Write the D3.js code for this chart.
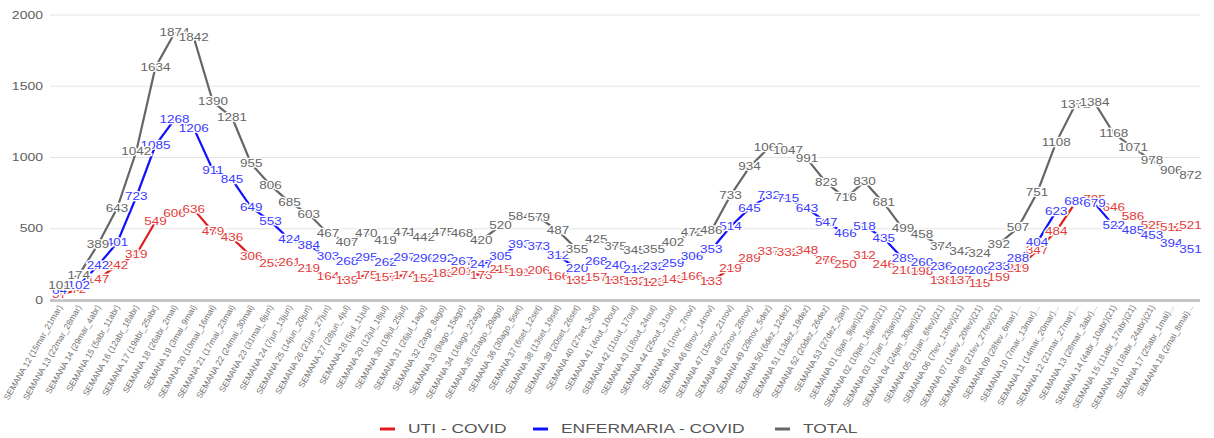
<!DOCTYPE html>
<html>
<head>
<meta charset="utf-8">
<style>
  body { margin: 0; background: #fff; }
  svg text { font-family: "Liberation Sans", Arial, sans-serif; }
</style>
</head>
<body>
<svg width="1214" height="438"></svg>
<script src="https://d3js.org/d3.v7.min.js"></script>
<script>

var weeks = [
  "SEMANA 12 (15mar_21mar)", "SEMANA 13 (22mar_28mar)", "SEMANA 14 (29mar_4abr)", "SEMANA 15 (5abr_11abr)",
  "SEMANA 16 (12abr_18abr)", "SEMANA 17 (19abr_25abr)", "SEMANA 18 (26abr_2mai)", "SEMANA 19 (3mai_9mai)",
  "SEMANA 20 (10mai_16mai)", "SEMANA 21 (17mai_23mai)", "SEMANA 22 (24mai_30mai)", "SEMANA 23 (31mai_6jun)",
  "SEMANA 24 (7jun_13jun)", "SEMANA 25 (14jun_20jun)", "SEMANA 26 (21jun_27jun)", "SEMANA 27 (28jun_4jul)",
  "SEMANA 28 (5jul_11jul)", "SEMANA 29 (12jul_18jul)", "SEMANA 30 (19jul_25jul)", "SEMANA 31 (26jul_1ago)",
  "SEMANA 32 (2ago_8ago)", "SEMANA 33 (9ago_15ago)", "SEMANA 34 (16ago_22ago)", "SEMANA 35 (23ago_29ago)",
  "SEMANA 36 (30ago_5set)", "SEMANA 37 (6set_12set)", "SEMANA 38 (13set_19set)", "SEMANA 39 (20set_26set)",
  "SEMANA 40 (27set_3out)", "SEMANA 41 (4out_10out)", "SEMANA 42 (11out_17out)", "SEMANA 43 (18out_24out)",
  "SEMANA 44 (25out_31out)", "SEMANA 45 (1nov_7nov)", "SEMANA 46 (8nov_14nov)", "SEMANA 47 (15nov_21nov)",
  "SEMANA 48 (22nov_28nov)", "SEMANA 49 (29nov_5dez)", "SEMANA 50 (6dez_12dez)", "SEMANA 51 (13dez_19dez)",
  "SEMANA 52 (20dez_26dez)", "SEMANA 53 (27dez_2jan)", "SEMANA 01 (3jan_9jan)(21)", "SEMANA 02 (10jan_16jan)(21)",
  "SEMANA 03 (17jan_23jan)(21)", "SEMANA 04 (24jan_30jan)(21)", "SEMANA 05 (31jan_6fev)(21)", "SEMANA 06 (7fev_13fev)(21)",
  "SEMANA 07 (14fev_20fev)(21)", "SEMANA 08 (21fev_27fev)(21)", "SEMANA 09 (28fev_6mar)...", "SEMANA 10 (7mar_13mar)...",
  "SEMANA 11 (14mar_20mar)...", "SEMANA 12 (21mar_27mar)...", "SEMANA 13 (28mar_3abr)...", "SEMANA 14 (4abr_10abr)(21)",
  "SEMANA 15 (11abr_17abr)(21)", "SEMANA 16 (18abr_24abr)(21)", "SEMANA 17 (25abr_1mai)...", "SEMANA 18 (2mai_8mai)..."
];

var uti = [37, 72, 147, 242, 319, 549, 606, 636, 479, 436,
  306, 253, 261, 219, 164, 139, 175, 157, 174, 152,
  183, 201, 173, 215, 191, 206, 166, 135, 157, 135,
  132, 123, 143, 166, 133, 219, 289, 337, 332, 348,
  276, 250, 312, 246, 210, 198, 138, 137, 115, 159,
  219, 347, 484, 684, 705, 646, 586, 525, 512, 521];

var enfermaria = [64, 102, 242, 401, 723, 1085, 1268, 1206, 911, 845,
  649, 553, 424, 384, 303, 268, 295, 262, 297, 290,
  292, 267, 247, 305, 393, 373, 312, 220, 268, 240,
  213, 232, 259, 306, 353, 514, 645, 732, 715, 643,
  547, 466, 518, 435, 289, 260, 236, 205, 209, 233,
  288, 404, 623, 688, 679, 522, 485, 453, 394, 351];

var total = [101, 174, 389, 643, 1042, 1634, 1874, 1842, 1390, 1281,
  955, 806, 685, 603, 467, 407, 470, 419, 471, 442,
  475, 468, 420, 520, 584, 579, 487, 355, 425, 375,
  345, 355, 402, 472, 486, 733, 934, 1069, 1047, 991,
  823, 716, 830, 681, 499, 458, 374, 342, 324, 392,
  507, 751, 1108, 1372, 1384, 1168, 1071, 978, 906, 872];

var yTicks = [0, 500, 1000, 1500, 2000];

var series = [
  { name: "UTI - COVID", values: uti, line: "#e01b1b", label: "#e23a3a" },
  { name: "ENFERMARIA - COVID", values: enfermaria, line: "#1010ff", label: "#3a3aff" },
  { name: "TOTAL", values: total, line: "#666666", label: "#666666" }
];

var svg = d3.select("svg");

var x = d3.scalePoint()
    .domain(weeks)
    .range([50, 1200])
    .padding(0.5);

var y = d3.scaleLinear()
    .domain([0, 2000])
    .range([300, 15]);

// gridlines
svg.append("g")
  .selectAll("line")
  .data(yTicks.slice(1))
  .enter().append("line")
    .attr("x1", 50)
    .attr("x2", 1200)
    .attr("y1", function(d) { return y(d); })
    .attr("y2", function(d) { return y(d); })
    .attr("stroke", "#e4e4e4")
    .attr("stroke-width", 1.2);

svg.append("line")
    .attr("x1", 50)
    .attr("x2", 1200)
    .attr("y1", y(0) + 0.5)
    .attr("y2", y(0) + 0.5)
    .attr("stroke", "#c4c4c4")
    .attr("stroke-width", 3);

// y labels (picture is stretched sideways, so stretch the text too)
svg.append("g")
  .selectAll("text")
  .data(yTicks)
  .enter().append("text")
    .attr("transform", function(d) { return "translate(43," + y(d) + ") scale(1.4,1)"; })
    .attr("text-anchor", "end")
    .attr("dy", "0.35em")
    .attr("font-size", 10)
    .attr("fill", "#606060")
    .text(function(d) { return d; });

// x labels
svg.append("g")
  .selectAll("text")
  .data(weeks)
  .enter().append("text")
    .attr("transform", function(d) { return "translate(" + (x(d) + 3) + ",307) rotate(-60)"; })
    .attr("text-anchor", "end")
    .attr("font-size", 8.5)
    .attr("fill", "#707070")
    .text(function(d) { return d; });

var line = d3.line()
    .x(function(d, i) { return x(weeks[i]); })
    .y(function(d) { return y(d); });

svg.append("g")
  .selectAll("path")
  .data(series.slice().reverse())
  .enter().append("path")
    .attr("d", function(s) { return line(s.values); })
    .attr("fill", "none")
    .attr("stroke", function(s) { return s.line; })
    .attr("stroke-width", 2.2);

// value labels with white halo, red first so blue and grey sit on top
series.forEach(function(s) {
  svg.append("g")
    .selectAll("text")
    .data(s.values)
    .enter().append("text")
      .attr("transform", function(d, i) { return "translate(" + x(weeks[i]) + "," + y(d) + ") scale(1.35,1)"; })
      .attr("text-anchor", "middle")
      .attr("dy", "0.35em")
      .attr("font-size", 10)
      .attr("fill", s.label)
      .attr("stroke", "#fff")
      .attr("stroke-width", 2.5)
      .attr("paint-order", "stroke")
      .text(function(d) { return d; });
});

// legend
var legendX = [380, 533, 775];
var legend = svg.append("g")
  .selectAll("g")
  .data(series)
  .enter().append("g")
    .attr("transform", function(s, i) { return "translate(" + legendX[i] + ",429)"; });

legend.append("line")
    .attr("x1", 0)
    .attr("x2", 15)
    .attr("stroke", function(s) { return s.line; })
    .attr("stroke-width", 3);

legend.append("text")
    .attr("transform", "translate(28,0) scale(1.45,1)")
    .attr("dy", "0.35em")
    .attr("font-size", 12)
    .attr("fill", "#555")
    .text(function(s) { return s.name; });

</script>
</body>
</html>
